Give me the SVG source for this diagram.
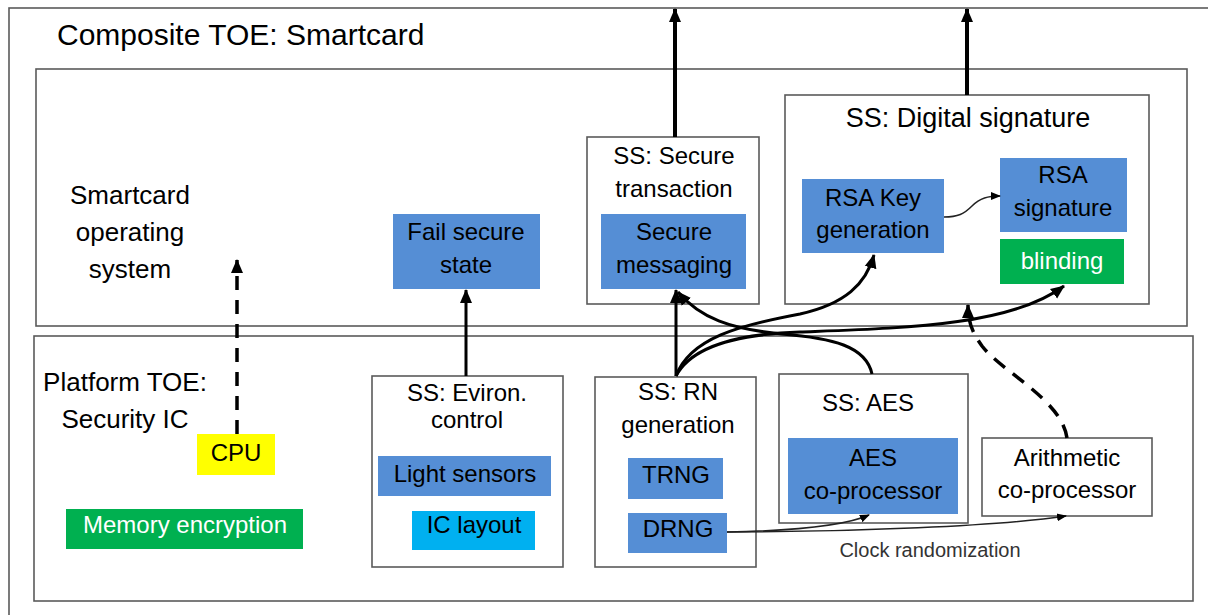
<svg xmlns="http://www.w3.org/2000/svg" width="1208" height="615" viewBox="0 0 1208 615">
<defs>
<style>
text{font-family:"Liberation Sans",Arial,sans-serif;fill:#000;text-anchor:middle}
.frame{fill:none;stroke:#5a5a5a;stroke-width:1.6}
.box{fill:#fff;stroke:#5a5a5a;stroke-width:1.6}
.blue{fill:#558ed5}
.green{fill:#00b050}
.cyan{fill:#00b0f0}
.yellow{fill:#ffff00}
.lbl{font-size:24px}
.big{font-size:26px}
.white{fill:#fff}
.thick{fill:none;stroke:#000;stroke-width:4}
.med{fill:none;stroke:#000;stroke-width:3}
.dash{fill:none;stroke:#000;stroke-width:3.5;stroke-dasharray:14 10}
.thin{fill:none;stroke:#222;stroke-width:1.5}
</style>
<marker id="ah" markerUnits="userSpaceOnUse" markerWidth="14" markerHeight="14" viewBox="0 0 14 14" refX="13" refY="7" orient="auto">
<path d="M0,1 L14,7 L0,13 z" fill="#000"/>
</marker>
<marker id="ahs" markerUnits="userSpaceOnUse" markerWidth="10" markerHeight="10" viewBox="0 0 10 10" refX="9" refY="5" orient="auto">
<path d="M0,1 L10,5 L0,9 z" fill="#000"/>
</marker>
</defs>
<rect width="1208" height="615" fill="#fff"/>

<g id="composite">
<rect class="frame" x="9" y="8" width="1210" height="620"/>
<text x="57" y="45" style="font-size:30px;text-anchor:start">Composite TOE: Smartcard</text>
</g>

<g id="os">
<rect class="frame" x="36" y="69" width="1151" height="257"/>
<text class="big" x="130" y="204">Smartcard</text>
<text class="big" x="130" y="241">operating</text>
<text class="big" x="130" y="278">system</text>
</g>

<g id="platform">
<rect class="frame" x="34" y="336" width="1159" height="265"/>
<text class="big" x="125" y="391">Platform TOE:</text>
<text class="big" x="125" y="428">Security IC</text>
</g>

<g id="fail-secure">
<rect class="blue" x="393" y="214" width="147" height="75"/>
<text class="lbl" x="466" y="240">Fail secure</text>
<text class="lbl" x="466" y="273">state</text>
</g>

<g id="ss-secure-transaction">
<rect class="box" x="587" y="137" width="172" height="167"/>
<text class="lbl" x="674" y="164">SS: Secure</text>
<text class="lbl" x="674" y="197">transaction</text>
</g>
<g id="secure-messaging">
<rect class="blue" x="601" y="214" width="145" height="75"/>
<text class="lbl" x="674" y="240">Secure</text>
<text class="lbl" x="674" y="273">messaging</text>
</g>

<g id="ss-digital-signature">
<rect class="box" x="785" y="95" width="364" height="209"/>
<text x="968" y="127" style="font-size:27px">SS: Digital signature</text>
</g>
<g id="rsa-key-generation">
<rect class="blue" x="802" y="179" width="142" height="74"/>
<text class="lbl" x="873" y="206">RSA Key</text>
<text class="lbl" x="873" y="238">generation</text>
</g>
<g id="rsa-signature">
<rect class="blue" x="1000" y="158" width="127" height="74"/>
<text class="lbl" x="1063" y="183">RSA</text>
<text class="lbl" x="1063" y="216">signature</text>
</g>
<g id="blinding">
<rect class="green" x="1000" y="239" width="124" height="45"/>
<text class="lbl white" x="1062" y="269">blinding</text>
</g>

<g id="cpu">
<rect class="yellow" x="197" y="434" width="78" height="41"/>
<text class="lbl" x="236" y="461">CPU</text>
</g>
<g id="memory-encryption">
<rect class="green" x="66" y="509" width="237" height="40"/>
<text class="lbl white" x="185" y="533">Memory encryption</text>
</g>

<g id="ss-environ-control">
<rect class="box" x="372" y="376" width="191" height="191"/>
<text class="lbl" x="467" y="401">SS: Eviron.</text>
<text class="lbl" x="467" y="428">control</text>
</g>
<g id="light-sensors">
<rect class="blue" x="378" y="456" width="173" height="40"/>
<text class="lbl" x="465" y="482">Light sensors</text>
</g>
<g id="ic-layout">
<rect class="cyan" x="412" y="511" width="123" height="39"/>
<text class="lbl" x="474" y="533">IC layout</text>
</g>

<g id="ss-rn-generation">
<rect class="box" x="595" y="377" width="161" height="190"/>
<text class="lbl" x="678" y="400">SS: RN</text>
<text class="lbl" x="678" y="433">generation</text>
</g>
<g id="trng">
<rect class="blue" x="628" y="458" width="95" height="41"/>
<text class="lbl" x="676" y="483">TRNG</text>
</g>
<g id="drng">
<rect class="blue" x="628" y="513" width="99" height="40"/>
<text class="lbl" x="678" y="537">DRNG</text>
</g>

<g id="ss-aes">
<rect class="box" x="779" y="374" width="189" height="149"/>
<text class="lbl" x="868" y="411">SS: AES</text>
</g>
<g id="aes-coprocessor">
<rect class="blue" x="788" y="438" width="170" height="76"/>
<text class="lbl" x="873" y="466">AES</text>
<text class="lbl" x="873" y="499">co-processor</text>
</g>

<g id="arithmetic-coprocessor">
<rect class="box" x="982" y="438" width="170" height="78"/>
<text class="lbl" x="1067" y="466">Arithmetic</text>
<text class="lbl" x="1067" y="498">co-processor</text>
</g>

<g id="connectors">
<path class="thick" d="M675,137 L675,9" marker-end="url(#ah)"/>
<path class="thick" d="M967,95 L967,9" marker-end="url(#ah)"/>
<path class="dash" d="M237,434 L237,260" marker-end="url(#ah)"/>
<path class="med" d="M466,376 L466,290" marker-end="url(#ah)"/>
<path class="med" d="M676,376 L676,290" marker-end="url(#ah)"/>
<path class="med" d="M676,376 C690,338 740,325 800,314 C845,304 866,284 874,255" marker-end="url(#ah)"/>
<path class="med" d="M676,376 C692,345 740,334 800,332 C905,328 1010,326 1064,286" marker-end="url(#ah)"/>
<path class="med" d="M872,374 C866,346 832,338 782,334 C730,329 700,318 678,292" marker-end="url(#ah)"/>
<path class="dash" d="M1067,438 C1062,400 1002,372 982,346 C972,332 968,322 968,305" marker-end="url(#ah)"/>
<path class="thin" d="M944,217 C958,217 964,214 972,206 C980,198 988,196 1000,196" marker-end="url(#ahs)"/>
<path class="thin" d="M727,532 C780,531 840,528 869,515" marker-end="url(#ahs)"/>
<path class="thin" d="M727,532 C850,532 1000,526 1066,516" marker-end="url(#ahs)"/>
<text x="930" y="557" style="font-size:20px;fill:#333">Clock randomization</text>
</g>
</svg>
